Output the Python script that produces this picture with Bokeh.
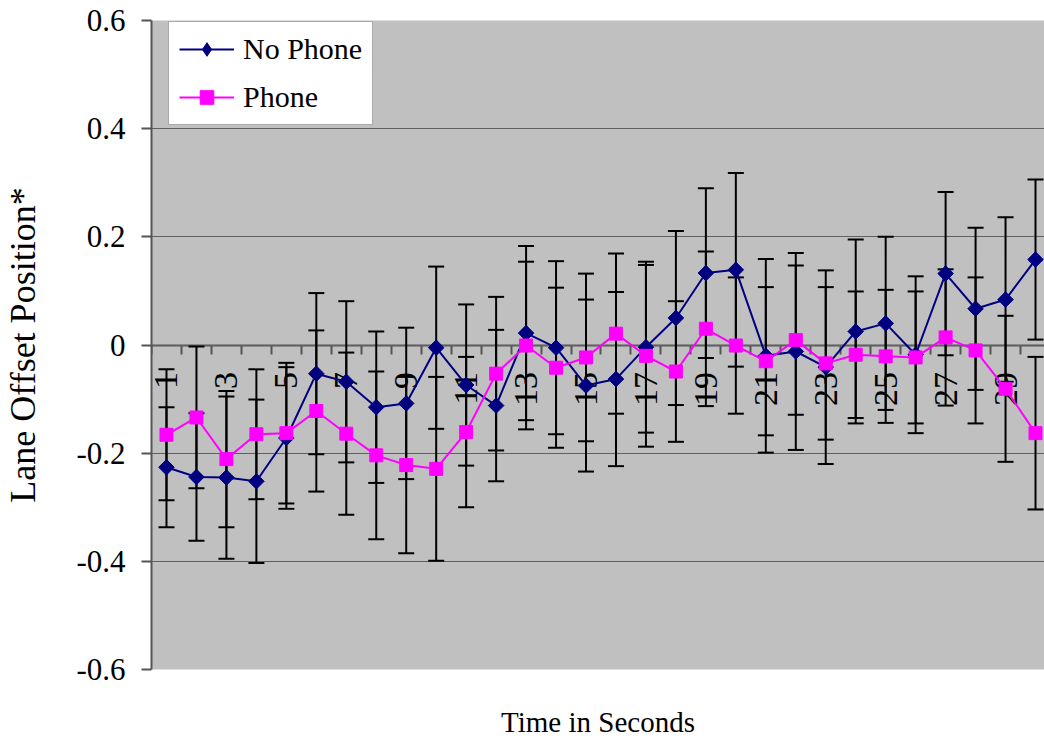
import math
from bokeh.plotting import figure
from bokeh.models import (ColumnDataSource, Range1d, FixedTicker, Whisker, TeeHead,
                          Legend, LegendItem, Title)
from bokeh.embed import file_html
from bokeh.resources import INLINE

# ---------------- data ----------------
seconds = list(range(1, 31))
no_phone = [-0.226, -0.244, -0.245, -0.252, -0.172, -0.053, -0.068, -0.115, -0.108, -0.005,
            -0.074, -0.112, 0.022, -0.005, -0.075, -0.063, -0.004, 0.050, 0.133, 0.139,
            -0.020, -0.012, -0.041, 0.025, 0.040, -0.018, 0.132, 0.067, 0.084, 0.158]
no_phone_err = [0.111, 0.118, 0.150, 0.151, 0.131, 0.149, 0.149, 0.140, 0.140, 0.150,
                0.149, 0.140, 0.161, 0.160, 0.159, 0.161, 0.158, 0.161, 0.157, 0.179,
                0.179, 0.182, 0.179, 0.170, 0.160, 0.145, 0.151, 0.150, 0.152, 0.148]
phone = [-0.166, -0.134, -0.211, -0.165, -0.163, -0.122, -0.164, -0.204, -0.222, -0.229,
         -0.161, -0.053, -0.001, -0.042, -0.023, 0.021, -0.020, -0.049, 0.030, -0.001,
         -0.030, 0.009, -0.034, -0.018, -0.021, -0.023, 0.014, -0.010, -0.081, -0.163]
phone_err = [0.121, 0.131, 0.126, 0.120, 0.130, 0.149, 0.150, 0.155, 0.163, 0.170,
             0.139, 0.142, 0.155, 0.148, 0.155, 0.148, 0.168, 0.130, 0.143, 0.126,
             0.137, 0.138, 0.141, 0.117, 0.123, 0.122, 0.126, 0.135, 0.135, 0.141]

series_names = ["No Phone", "Phone"]
y_ticks = [-0.6, -0.4, -0.2, 0, 0.2, 0.4, 0.6]
y_tick_labels = ["-0.6", "-0.4", "-0.2", "0", "0.2", "0.4", "0.6"]
x_label_ticks = list(range(1, 30, 2))
x_tick_labels = [str(v) for v in x_label_ticks]
x_title = "Time in Seconds"
y_title = "Lane Offset Position*"

# ---------------- style ----------------
FONT = "Liberation Serif"
NAVY = "#000080"
MAGENTA = "#FF00FF"
GRID = "#606060"
AXIS = "#555555"

p = figure(width=1044, height=742, output_backend="svg", toolbar_location=None,
           x_range=Range1d(0.5, 0.5 + 894 / 30), y_range=Range1d(-0.6, 0.6),
           min_border_left=150, min_border_right=0, min_border_top=20, min_border_bottom=73)
p.background_fill_color = "#C0C0C0"
p.border_fill_color = "white"
p.outline_line_color = None

# y axis
p.yaxis.ticker = FixedTicker(ticks=y_ticks)
p.yaxis.major_label_overrides = dict(zip(y_ticks, y_tick_labels))
p.yaxis.axis_label = y_title
p.yaxis.axis_label_text_font = FONT
p.yaxis.axis_label_text_font_size = "36px"
p.yaxis.axis_label_text_font_style = "normal"
p.yaxis.axis_label_text_color = "black"
p.yaxis.axis_label_standoff = 30
p.yaxis.major_label_text_font = FONT
p.yaxis.major_label_text_font_size = "31px"
p.yaxis.major_label_text_color = "black"
p.yaxis.major_label_standoff = 16
p.yaxis.major_tick_out = 10
p.yaxis.major_tick_in = 0
p.yaxis.minor_tick_line_color = None
p.yaxis.major_tick_line_color = AXIS
p.yaxis.major_tick_line_width = 2
p.yaxis.axis_line_color = AXIS
p.yaxis.axis_line_width = 2

# x axis crossing at zero
p.xaxis.fixed_location = 0
p.xaxis.ticker = FixedTicker(ticks=x_label_ticks,
                             minor_ticks=[s - 0.5 for s in seconds] + [seconds[-1] + 0.5])
p.xaxis.major_label_overrides = dict(zip(x_label_ticks, x_tick_labels))
p.xaxis.major_label_orientation = math.pi / 2
p.xaxis.major_label_text_font = FONT
p.xaxis.major_label_text_font_size = "34px"
p.xaxis.major_label_text_color = "black"
p.xaxis.major_label_standoff = 18
p.xaxis.major_tick_out = 0
p.xaxis.major_tick_in = 0
p.xaxis.major_tick_line_color = None
p.xaxis.minor_tick_out = 9
p.xaxis.minor_tick_in = 0
p.xaxis.minor_tick_line_color = AXIS
p.xaxis.minor_tick_line_width = 2
p.xaxis.axis_line_color = AXIS
p.xaxis.axis_line_width = 2
p.xaxis.level = "underlay"

p.xgrid.visible = False
p.ygrid.ticker = FixedTicker(ticks=y_ticks)
p.ygrid.grid_line_color = GRID
p.ygrid.grid_line_width = 1

# spacer + x-axis title in the bottom panel
p.add_layout(Title(text=" ", text_font=FONT, text_font_size="29px", standoff=0), "below")
p.add_layout(Title(text=x_title, align="center", vertical_align="bottom", text_font=FONT,
                   text_font_size="29px", text_font_style="normal", text_color="black",
                   standoff=0), "below")

# error bars
for vals, errs in ((no_phone, no_phone_err), (phone, phone_err)):
    src = ColumnDataSource(dict(x=seconds,
                                upper=[v + e for v, e in zip(vals, errs)],
                                lower=[v - e for v, e in zip(vals, errs)]))
    w = Whisker(source=src, base="x", upper="upper", lower="lower", dimension="height",
                line_color="black", line_width=2, level="underlay",
                upper_head=TeeHead(size=16, line_color="black", line_width=2),
                lower_head=TeeHead(size=16, line_color="black", line_width=2))
    p.add_layout(w)

# series
src_np = ColumnDataSource(dict(x=seconds, y=no_phone))
src_p = ColumnDataSource(dict(x=seconds, y=phone))
l1 = p.line("x", "y", source=src_np, line_color=NAVY, line_width=2)
# diamond (used as legend key) sits fully beneath the rotated-square marker
key_np = p.scatter("x", "y", source=src_np, marker="diamond", size=15,
                   fill_color=NAVY, line_color=NAVY)
m1 = p.scatter("x", "y", source=src_np, marker="square", angle=math.pi / 4, size=11,
               fill_color=NAVY, line_color=NAVY)
l2 = p.line("x", "y", source=src_p, line_color=MAGENTA, line_width=2)
m2 = p.scatter("x", "y", source=src_p, marker="square", size=13,
               fill_color=MAGENTA, line_color=MAGENTA)

legend = Legend(items=[LegendItem(label=series_names[0], renderers=[l1, key_np]),
                       LegendItem(label=series_names[1], renderers=[l2, m2])],
                location=(17, 544), orientation="vertical",
                label_text_font=FONT, label_text_font_size="30px", label_text_color="black",
                glyph_width=55, glyph_height=34, label_height=34, label_standoff=9,
                padding=10, spacing=14, margin=0,
                border_line_color=AXIS, border_line_width=1.5,
                background_fill_color="white", background_fill_alpha=1.0)
p.add_layout(legend)

open("out.html", "w").write(file_html(p, INLINE))
